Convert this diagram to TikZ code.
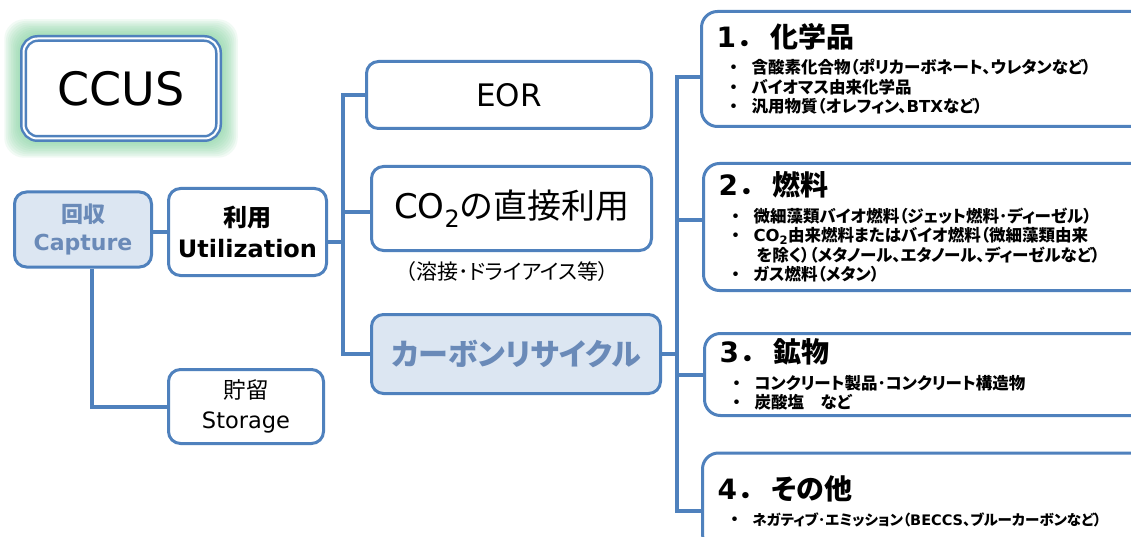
\documentclass[tikz,border=0pt]{standalone}
\usepackage{fontspec}
\setmainfont{Noto Sans CJK JP}[RawFeature=+palt]
\newfontfamily\latfont{DejaVu Sans}
\newcommand\lat[1]{{\latfont #1}}
\newcommand\fsz[2]{\fontsize{#1}{#2}\selectfont}
\newcommand\hd[2]{{\fsz{28}{32}\lat{#1}\hspace{5pt}．\hspace{16pt}#2\par}\vspace{7pt}}
\newcommand\bul[1]{\hspace*{13pt}\makebox[22pt][l]{・}#1}
\newcommand\cont[1]{\hspace*{38pt}#1}
\usetikzlibrary{backgrounds}
\definecolor{lineblue}{RGB}{79,129,189}
\definecolor{boxfill}{RGB}{220,230,242}
\definecolor{captxt}{RGB}{106,138,184}
\definecolor{glowgreen}{RGB}{130,210,160}

\begin{document}
\begin{tikzpicture}[x=1pt,y=-1pt,
  box/.style={draw=lineblue,line width=3pt,rounded corners=12pt,fill=white,align=center,inner sep=0pt},
  keybox/.style={box,fill=boxfill,text=captxt},
  rbox/.style={box,rounded corners=16pt,minimum width=450pt,text width=420pt,align=left,anchor=west,font=\bfseries\fsz{16.5}{19.5}},
  link/.style={draw=lineblue,line width=4pt}]
  \useasboundingbox (0,0) rectangle (1131,537);

  \node[box,double=white,double distance=2pt,line width=2.5pt,rounded corners=14pt,minimum width=195pt,minimum height=100pt,font=\latfont\fsz{46}{50}] (ccus) at (121,88.5) {CCUS};
  \node[keybox,minimum width=137pt,minimum height=75pt,font=\bfseries\fsz{22}{28}] (capture) at (83,229.5) {回収\\\lat{Capture}};
  \node[box,minimum width=158pt,minimum height=87pt,font=\bfseries\fsz{24}{31}] (util) at (247.5,232) {利用\\\lat{Utilization}};
  \node[box,minimum width=155pt,minimum height=74pt,font=\fsz{22.5}{30}] (storage) at (246,406.5) {貯留\\\lat{Storage}};
  \node[box,minimum width=285pt,minimum height=67pt,font=\latfont\fsz{31}{36}] (eor) at (509,95) {EOR};
  \node[box,minimum width=280pt,minimum height=84pt,font=\fsz{34}{40}] (direct) at (511.5,208.5) {\lat{CO\textsubscript{2}}の直接利用};
  \node[font=\fsz{21}{24},inner sep=0pt] (note) at (507,272) {（溶接･ドライアイス等）};
  \node[keybox,minimum width=289pt,minimum height=79pt,font=\bfseries\fsz{30}{34}] (recycle) at (516,354) {カーボンリサイクル};

  \node[rbox,minimum height=115pt] (chem) at (700,69) {\hd{1}{化学品}
    \bul{含酸素化合物（ポリカーボネート、ウレタンなど）}\\
    \bul{バイオマス由来化学品}\\
    \bul{汎用物質（オレフィン、\lat{BTX}など）}};
  \node[rbox,minimum height=127pt] (fuel) at (702,227) {\hd{2}{燃料}
    \bul{微細藻類バイオ燃料（ジェット燃料･ディーゼル）}\\
    \bul{\lat{CO\textsubscript{2}}由来燃料またはバイオ燃料（微細藻類由来}\\
    \cont{を除く）（メタノール、エタノール、ディーゼルなど）}\\
    \bul{ガス燃料（メタン）}};
  \node[rbox,minimum height=82pt] (mineral) at (703,374.5) {\hd{3}{鉱物}
    \bul{コンクリート製品･コンクリート構造物}\\
    \bul{炭酸塩　など}};
  \node[rbox,minimum height=97pt] (other) at (701,501.5) {\hd{4}{その他}
    \bul{{\fsz{14.5}{19.5}ネガティブ･エミッション（\lat{BECCS}、ブルーカーボンなど）}}};

  \coordinate (ltrunk) at (343,242);
  \coordinate (rtrunk) at (677,350);
  \draw[link] (capture.east |- util.west) -- (util.west);
  \draw[link] ([xshift=9pt]capture.south) |- (storage.west);
  \draw[link] (util.east |- ltrunk) -- (ltrunk);
  \draw[link] (eor.west) -| (ltrunk) |- (recycle.west);
  \draw[link] ([yshift=-4pt]direct.west) -- ([yshift=-4pt]direct.west -| ltrunk);
  \draw[link] (recycle.east) -- (recycle.east -| rtrunk);
  \draw[link] ([yshift=-8pt]chem.west) -| (rtrunk) |- ([yshift=-9pt]other.west);
  \draw[link] ([yshift=7pt]fuel.west) -- ([yshift=7pt]fuel.west -| rtrunk);
  \draw[link] (mineral.west) -- (mineral.west -| rtrunk);

  \begin{scope}[on background layer]
    \fill[white] (0,0) rectangle (1131,537);
    \foreach \g in {1,...,10}
      \fill[glowgreen,opacity=0.11,rounded corners=20pt] ([shift={(-1.7*\g-1,-1.7*\g-1)}]ccus.north west) rectangle ([shift={(1.7*\g+1,1.7*\g+1)}]ccus.south east);
  \end{scope}
\end{tikzpicture}
\end{document}
